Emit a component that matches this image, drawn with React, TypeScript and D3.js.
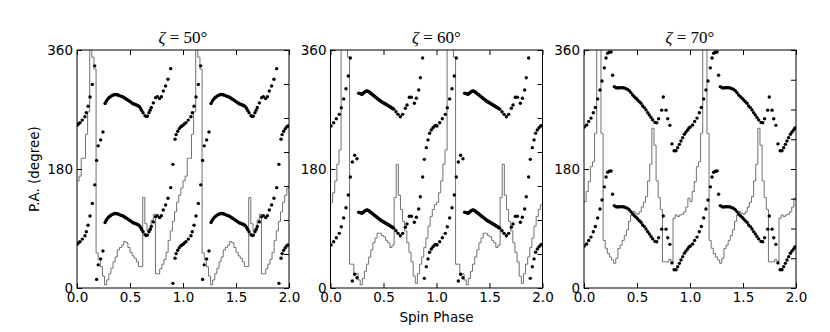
import React, { useEffect, useRef } from 'react';
import * as d3 from 'd3';

// zeta angle of each panel
const zetas = ['50', '60', '70'];
const xTicks = [0, 0.5, 1, 1.5, 2];
const yTicks = [0, 180, 360];
const rightTickCounts = [7, 7, 8];

// P.A. samples over one spin cycle (plotted at PA and PA+180, and repeated for cycle 2)
const phase50 = [0.0, 0.012, 0.028, 0.05, 0.075, 0.088, 0.104, 0.123, 0.145, 0.167, 0.185, 0.2, 0.223, 0.245, 0.265, 0.276, 0.286, 0.297, 0.307, 0.318, 0.328, 0.339, 0.349, 0.36, 0.37, 0.38, 0.39, 0.4, 0.41, 0.42, 0.43, 0.44, 0.45, 0.46, 0.47, 0.48, 0.49, 0.5, 0.51, 0.52, 0.53, 0.54, 0.55, 0.56, 0.57, 0.58, 0.59, 0.6, 0.61, 0.623, 0.642, 0.655, 0.664, 0.679, 0.69, 0.701, 0.72, 0.742, 0.758, 0.78, 0.796, 0.814, 0.836, 0.858, 0.884, 0.905, 0.925, 0.935, 0.95, 0.965, 0.98, 0.99];
const pa50 = [66, 68, 70, 74, 79, 85, 95, 109, 128, 156, 13, 35, 44, 56, 99, 102.5, 105, 107, 108.5, 109.5, 111, 111.8, 112.3, 112.6, 112.5, 112.2, 111.7, 111, 110.3, 109.8, 109.2, 108.3, 107.3, 106.3, 105.3, 104.2, 103.1, 102, 100.8, 99.7, 98.8, 98.1, 97.5, 96.9, 96.1, 95.4, 94, 91.5, 88.5, 85, 80.5, 79.5, 80, 85, 89, 93, 100, 107.9, 109.4, 106.5, 109.4, 118, 125.6, 135.7, 151.8, 7, 45, 52, 57, 61, 64, 65];

const phase60 = [0.005, 0.03, 0.055, 0.083, 0.102, 0.124, 0.146, 0.168, 0.187, 0.206, 0.228, 0.25, 0.266, 0.281, 0.29, 0.297, 0.305, 0.313, 0.32, 0.328, 0.336, 0.344, 0.352, 0.36, 0.368, 0.376, 0.384, 0.392, 0.4, 0.407, 0.415, 0.423, 0.431, 0.439, 0.447, 0.455, 0.463, 0.47, 0.478, 0.486, 0.494, 0.502, 0.51, 0.518, 0.526, 0.533, 0.541, 0.549, 0.557, 0.564, 0.572, 0.58, 0.588, 0.596, 0.618, 0.637, 0.659, 0.681, 0.706, 0.722, 0.744, 0.763, 0.791, 0.81, 0.832, 0.847, 0.869, 0.885, 0.904, 0.92, 0.935, 0.951, 0.967, 0.983, 0.995];
const pa60 = [65, 70, 76, 82.7, 92.7, 106, 121.5, 140.7, 168, 10.6, 20.7, 15.6, 114.5, 114, 113.5, 113, 114, 115, 116, 117, 117.5, 118, 117.5, 117, 116, 115, 114, 113, 112, 111, 110, 109, 108, 107, 106, 105, 104, 103, 102, 101.3, 100.5, 99.8, 99, 98.3, 97.5, 96.8, 96, 95.2, 94.5, 93.8, 93, 92.2, 91.5, 90.5, 86.7, 82.7, 79, 82.7, 91.8, 96.9, 108.5, 108.5, 99.4, 107, 119.5, 138, 168, 14.6, 32.3, 44, 54, 59, 62.5, 65, 66];

const phase70 = [0.003, 0.025, 0.044, 0.066, 0.088, 0.107, 0.129, 0.151, 0.17, 0.192, 0.208, 0.223, 0.239, 0.255, 0.27, 0.286, 0.302, 0.318, 0.333, 0.349, 0.365, 0.38, 0.396, 0.411, 0.427, 0.443, 0.459, 0.475, 0.491, 0.506, 0.522, 0.538, 0.553, 0.569, 0.585, 0.6, 0.616, 0.632, 0.648, 0.67, 0.686, 0.704, 0.733, 0.748, 0.774, 0.79, 0.81, 0.83, 0.85, 0.868, 0.884, 0.9, 0.915, 0.931, 0.947, 0.962, 0.978, 0.99];
const pa70 = [63.5, 66.6, 72, 77, 85, 93, 106, 119.5, 133, 153, 168, 175, 176.5, 177, 141.7, 124.6, 123, 122.5, 123, 123, 123, 122.5, 121.5, 120.5, 118.5, 115.5, 112, 109.4, 107, 104.4, 101.9, 99.4, 95.4, 92.9, 89.4, 85.3, 81.8, 77.8, 74.3, 70.5, 70, 76, 89, 109, 89, 76, 66, 38, 27.5, 27.5, 32.3, 37.3, 42.4, 47.4, 52.5, 56, 59, 62];

// light curves, fraction of panel height, bins of 0.02 in phase
const light50 = [0.45, 0.47, 0.545, 0.545, 0.646, 0.74, 1.3, 0.97, 0.92, 0.147, 0.12, 0.09, 0.05, 0.013, 0.034, 0.06, 0.083, 0.11, 0.13, 0.16, 0.17, 0.18, 0.195, 0.19, 0.17, 0.15, 0.135, 0.125, 0.11, 0.09, 0.09, 0.38, 0.27, 0.24, 0.24, 0.285, 0.31, 0.06, 0.06, 0.08, 0.1, 0.12, 0.15, 0.2, 0.24, 0.28, 0.32, 0.36, 0.39, 0.42];
const light60 = [0.36, 0.4, 0.45, 0.52, 0.58, 1.3, 1.3, 1.1, 0.97, 0.1, 0.1, 0.06, 0.06, 0.034, 0.013, 0.04, 0.07, 0.1, 0.13, 0.16, 0.19, 0.21, 0.23, 0.23, 0.22, 0.215, 0.2, 0.19, 0.17, 0.18, 0.38, 0.52, 0.39, 0.33, 0.28, 0.24, 0.19, 0.15, 0.11, 0.05, 0.02, 0.06, 0.1, 0.13, 0.17, 0.21, 0.26, 0.3, 0.33, 0.35];
const light70 = [0.363, 0.405, 0.447, 0.51, 0.53, 0.65, 1.3, 1.3, 0.65, 0.2, 0.167, 0.145, 0.13, 0.118, 0.104, 0.125, 0.166, 0.18, 0.2, 0.22, 0.244, 0.28, 0.307, 0.321, 0.314, 0.31, 0.32, 0.34, 0.36, 0.384, 0.45, 0.52, 0.671, 0.6, 0.45, 0.38, 0.33, 0.11, 0.11, 0.11, 0.12, 0.11, 0.293, 0.307, 0.3, 0.307, 0.31, 0.32, 0.34, 0.377];

const panels = [
  { zeta: zetas[0], phase: phase50, pa: pa50, light: light50, nr: rightTickCounts[0] },
  { zeta: zetas[1], phase: phase60, pa: pa60, light: light60, nr: rightTickCounts[1] },
  { zeta: zetas[2], phase: phase70, pa: pa70, light: light70, nr: rightTickCounts[2] },
];

const W = 830, H = 332;
const lefts = [77, 330.5, 584];
const top = 50, pw = 212, ph = 238;
const binW = 0.02;
const font = 'DejaVu Sans, sans-serif';

export default function App() {
  const ref = useRef<SVGSVGElement>(null);

  useEffect(() => {
    const svg = d3.select(ref.current);
    svg.selectAll('*').remove();

    panels.forEach((p, k) => {
      const x = d3.scaleLinear().domain([0, 2]).range([lefts[k], lefts[k] + pw]);
      const y = d3.scaleLinear().domain([0, 360]).range([top + ph, top]);
      const yl = d3.scaleLinear().domain([0, 1]).range([top + ph, top]);
      const g = svg.append('g');

      const clipId = 'clip' + k;
      svg.append('clipPath').attr('id', clipId).append('rect')
        .attr('x', lefts[k]).attr('y', top).attr('width', pw).attr('height', ph);

      // light curve (step)
      const pts: [number, number][] = [];
      [0, 1].forEach(c => p.light.forEach((v, i) => pts.push([c + i * binW, v])));
      pts.push([2, p.light[p.light.length - 1]]);
      const line = d3.line<[number, number]>()
        .x(d => x(d[0]))
        .y(d => yl(d[1]))
        .curve(d3.curveStepAfter);
      g.append('path')
        .attr('d', line(pts))
        .attr('fill', 'none')
        .attr('stroke', '#707070')
        .attr('stroke-width', 1)
        .attr('clip-path', `url(#${clipId})`);

      // PA dots
      const dots: [number, number][] = [];
      [0, 1].forEach(c => p.phase.forEach((ph0, i) => {
        dots.push([c + ph0, p.pa[i]]);
        dots.push([c + ph0, p.pa[i] + 180]);
      }));
      g.append('g').attr('clip-path', `url(#${clipId})`)
        .selectAll('circle').data(dots).enter().append('circle')
        .attr('cx', d => x(d[0]))
        .attr('cy', d => y(d[1]))
        .attr('r', 1.7)
        .attr('fill', 'black');

      // axes, ticks pointing inward
      const style = (a: any) => {
        a.select('.domain').remove();
        a.attr('font-family', font).attr('font-size', 13.5);
        a.selectAll('line').attr('stroke', 'black');
      };
      g.append('g').attr('transform', `translate(0,${top + ph})`)
        .call(d3.axisBottom(x).tickValues(xTicks).tickFormat(d3.format('.1f')).tickSize(-5).tickPadding(4))
        .call(style);
      g.append('g').attr('transform', `translate(0,${top})`)
        .call(d3.axisTop(x).tickValues(xTicks).tickFormat(() => '').tickSize(-5))
        .call(style);
      g.append('g').attr('transform', `translate(${lefts[k]},0)`)
        .call(d3.axisLeft(y).tickValues(yTicks).tickFormat(d3.format('d')).tickSize(-5).tickPadding(4))
        .call(style);
      g.append('g').attr('transform', `translate(${lefts[k] + pw},0)`)
        .call(d3.axisRight(yl).tickValues(d3.range(p.nr + 1).map(i => i / p.nr)).tickFormat(() => '').tickSize(-5))
        .call(style);

      g.append('rect')
        .attr('x', lefts[k]).attr('y', top).attr('width', pw).attr('height', ph)
        .attr('fill', 'none').attr('stroke', 'black').attr('stroke-width', 1);

      // title
      const t = g.append('text')
        .attr('x', lefts[k] + pw / 2).attr('y', 43)
        .attr('text-anchor', 'middle')
        .attr('font-family', 'Liberation Serif, serif')
        .attr('font-size', 17);
      t.append('tspan').attr('font-style', 'italic').text('ζ');
      t.append('tspan').text(' = ' + p.zeta + '°');
    });

    svg.append('text')
      .attr('transform', 'translate(39,169) rotate(-90)')
      .attr('text-anchor', 'middle')
      .attr('font-family', font).attr('font-size', 13.5)
      .text('P.A. (degree)');

    svg.append('text')
      .attr('x', lefts[1] + pw / 2).attr('y', 322)
      .attr('text-anchor', 'middle')
      .attr('font-family', font).attr('font-size', 13.5)
      .text('Spin Phase');
  }, []);

  return (
    <svg ref={ref} width={W} height={H}
      style={{ position: 'absolute', left: 0, top: 0, background: 'white' }} />
  );
}
